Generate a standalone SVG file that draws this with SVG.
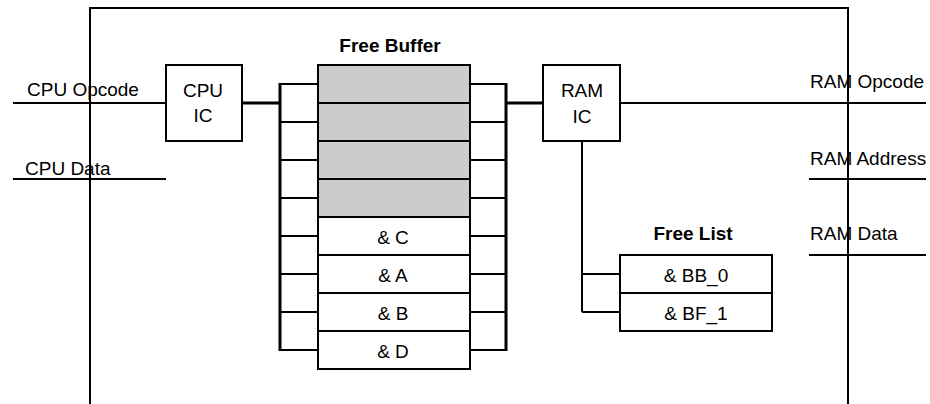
<svg xmlns="http://www.w3.org/2000/svg" width="930" height="404" viewBox="0 0 930 404">
<style>
.ln{stroke:#000;stroke-width:2;fill:none}
.thk{stroke:#000;stroke-width:3;fill:none}
.box{stroke:#000;stroke-width:2;fill:#fff}
.gray{stroke:#000;stroke-width:2;fill:#cccccc}
text{font-family:"Liberation Sans",Arial,sans-serif;font-size:19px;fill:#000}
.c{text-anchor:middle}
.b{font-weight:bold}
</style>
<rect width="930" height="404" fill="#fff"/>
<g id="frame">
<path class="ln" d="M90,404 V8 H848 V404"/>
</g>
<g id="connectors">
<line class="ln" x1="13" y1="103" x2="166" y2="103"/>
<line class="ln" x1="13" y1="179" x2="166" y2="179"/>
<line class="thk" x1="242" y1="103" x2="280" y2="103"/>
<line class="thk" x1="506" y1="103" x2="543" y2="103"/>
<line class="ln" x1="620" y1="103" x2="926" y2="103"/>
<line class="ln" x1="809" y1="179" x2="926" y2="179"/>
<line class="ln" x1="809" y1="255" x2="926" y2="255"/>
<path class="ln" d="M582,141 V312 M582,274 H620 M582,312 H620"/>
<path class="ln" d="M280,84 H318 M280,122 H318 M280,160 H318 M280,198 H318 M280,236 H318 M280,274 H318 M280,312 H318 M280,350 H318"/>
<path class="ln" d="M470,84 H506 M470,122 H506 M470,160 H506 M470,198 H506 M470,236 H506 M470,274 H506 M470,312 H506 M470,350 H506"/>
<line class="thk" x1="280" y1="83" x2="280" y2="351"/>
<line class="thk" x1="506" y1="83" x2="506" y2="351"/>
</g>
<g id="labels">
<text x="27" y="96">CPU Opcode</text>
<text x="25" y="175">CPU Data</text>
<text x="810" y="88">RAM Opcode</text>
<text x="810" y="165">RAM Address</text>
<text x="810" y="240">RAM Data</text>
</g>
<g id="cpu-ic">
<rect class="box" x="166" y="65" width="76" height="76"/>
<text class="c" x="203" y="97">CPU</text>
<text class="c" x="203" y="122">IC</text>
</g>
<g id="ram-ic">
<rect class="box" x="543" y="65" width="77" height="76"/>
<text class="c" x="582" y="97">RAM</text>
<text class="c" x="582" y="123">IC</text>
</g>
<g id="free-buffer">
<text class="c b" x="390" y="52">Free Buffer</text>
<rect class="gray" x="318" y="65" width="152" height="38"/>
<rect class="gray" x="318" y="103" width="152" height="38"/>
<rect class="gray" x="318" y="141" width="152" height="38"/>
<rect class="gray" x="318" y="179" width="152" height="38"/>
<rect class="box" x="318" y="217" width="152" height="38"/>
<rect class="box" x="318" y="255" width="152" height="38"/>
<rect class="box" x="318" y="293" width="152" height="38"/>
<rect class="box" x="318" y="331" width="152" height="38"/>
<text class="c" x="393" y="244">&amp; C</text>
<text class="c" x="393" y="282">&amp; A</text>
<text class="c" x="393" y="320">&amp; B</text>
<text class="c" x="393" y="358">&amp; D</text>
</g>
<g id="free-list">
<text class="c b" x="693" y="240">Free List</text>
<rect class="box" x="620" y="255" width="152" height="38"/>
<rect class="box" x="620" y="293" width="152" height="38"/>
<text class="c" x="696" y="282">&amp; BB_0</text>
<text class="c" x="696" y="320">&amp; BF_1</text>
</g>
</svg>
